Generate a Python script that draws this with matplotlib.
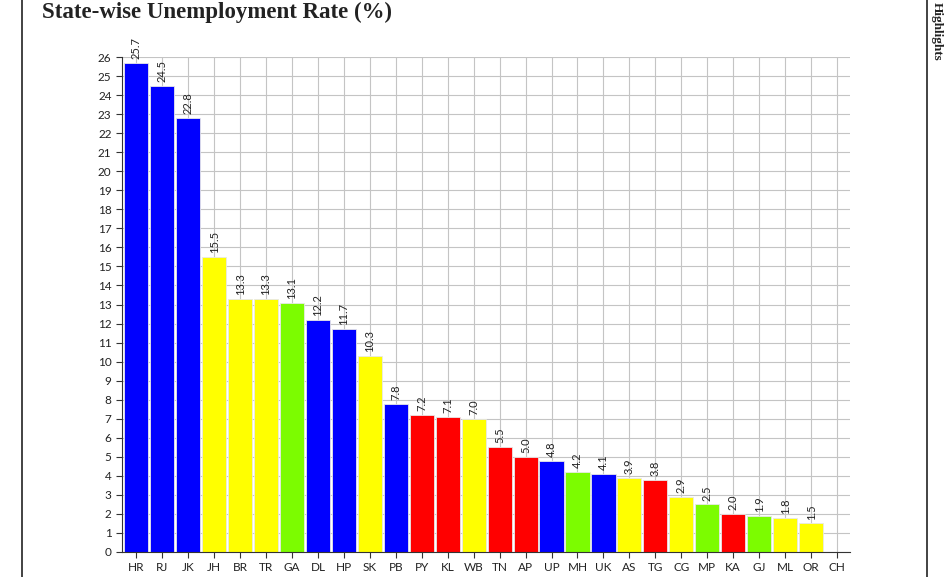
import matplotlib
matplotlib.use("Agg")
import matplotlib.pyplot as plt
from matplotlib.lines import Line2D

states = ["HR", "RJ", "JK", "JH", "BR", "TR", "GA", "DL", "HP", "SK", "PB", "PY", "KL", "WB",
          "TN", "AP", "UP", "MH", "UK", "AS", "TG", "CG", "MP", "KA", "GJ", "ML", "OR", "CH"]
rates = [25.7, 24.5, 22.8, 15.5, 13.3, 13.3, 13.1, 12.2, 11.7, 10.3, 7.8, 7.2, 7.1, 7.0,
         5.5, 5.0, 4.8, 4.2, 4.1, 3.9, 3.8, 2.9, 2.5, 2.0, 1.9, 1.8, 1.5, 0.0]
groups = ["b", "b", "b", "y", "y", "y", "g", "b", "b", "y", "b", "r", "r", "y",
          "r", "r", "b", "g", "b", "y", "r", "y", "g", "r", "g", "y", "y", "y"]

palette = {"b": "#0000ff", "y": "#ffff00", "g": "#7cfc00", "r": "#ff0000"}

fig = plt.figure(figsize=(9.48, 5.77), dpi=100)
W, H = 948, 577
ax = fig.add_axes([122 / W, 1 - 552 / H, (850 - 122) / W, (552 - 57) / H])

x = list(range(len(states)))
cols = [palette[g] for g in groups]
ax.bar(x, rates, width=0.93, color=cols, edgecolor="#e8e8e8", linewidth=0.6, zorder=2)

for i, v in enumerate(rates):
    if v > 0:
        ax.text(i, v + 0.2, f"{v:.1f}", rotation=90, ha="center", va="bottom",
                fontsize=8, family="Lato", color="#222222", clip_on=False, zorder=3)

ax.set_xlim(-0.55, 27.5)
ax.set_ylim(0, 26)
ax.set_yticks(range(0, 27))
ax.set_xticks(x)
ax.set_xticklabels(states)
ax.grid(True, color="#c4c4c4", linewidth=0.8, zorder=0)
ax.set_axisbelow(True)
for s in ["top", "right"]:
    ax.spines[s].set_visible(False)
ax.spines["left"].set_color("#333333")
ax.spines["bottom"].set_color("#333333")
ax.tick_params(axis="both", length=4, width=0.8, color="#333333", labelsize=8.5,
               labelcolor="#222222")
for lab in ax.get_xticklabels() + ax.get_yticklabels():
    lab.set_family("Lato")

fig.text(42 / W, 1 - 12 / H, "State-wise Unemployment Rate (%)", ha="left", va="center",
         fontsize=16.5, fontweight="bold", family="Liberation Serif", color="#222222")
fig.text(937 / W, 1 - 2 / H, "Highlights", rotation=-90, ha="center", va="top",
         fontsize=9.5, fontweight="bold", family="Liberation Serif", color="#222222")

fig.add_artist(Line2D([22 / W, 22 / W], [0, 1], color="#222222", linewidth=1.2))
fig.add_artist(Line2D([927 / W, 927 / W], [0, 1], color="#222222", linewidth=1.2))

fig.savefig("out.png", dpi=100)
